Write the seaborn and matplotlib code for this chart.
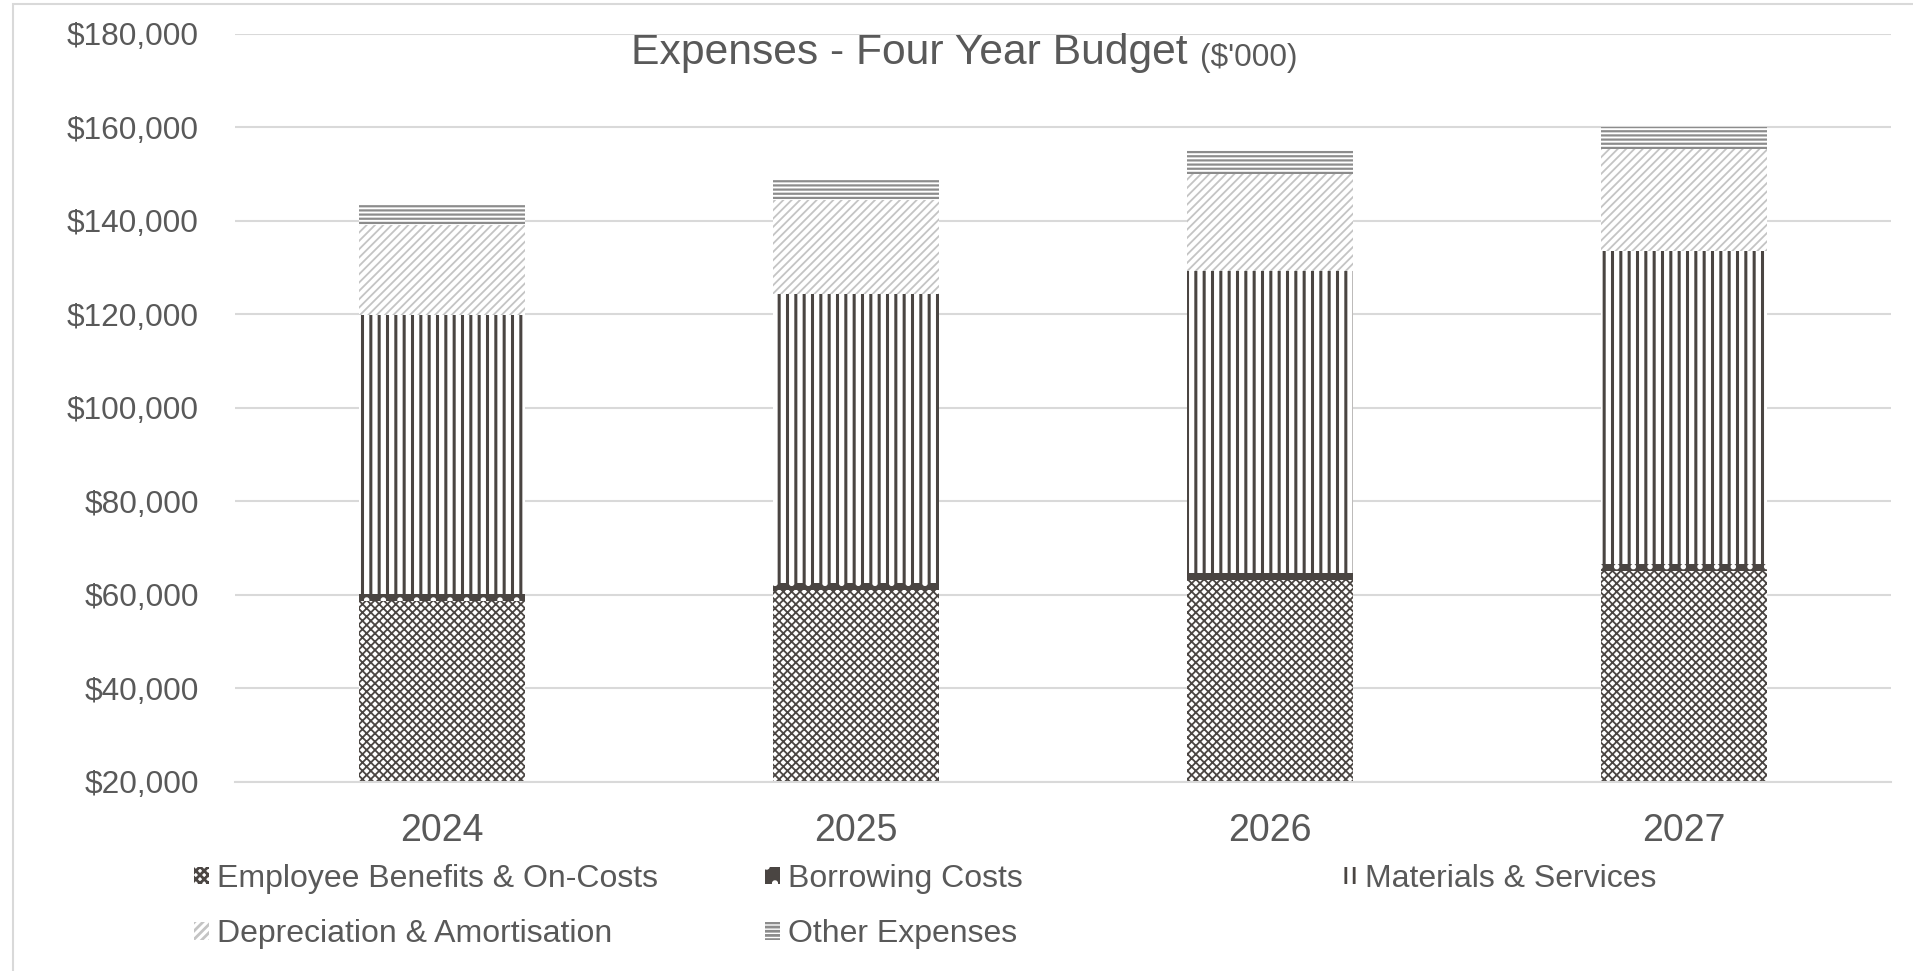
import matplotlib
matplotlib.use('Agg')
import matplotlib.pyplot as plt
from matplotlib.patches import Patch, Rectangle
from matplotlib.ticker import FuncFormatter
import seaborn as sns
import numpy as np

# --- Data ($'000) ---
years = ['2024', '2025', '2026', '2027']
employee_benefits = [58700, 61000, 63200, 65100]
borrowing_costs = [1500, 1500, 1400, 1500]
materials_services = [59600, 61900, 64600, 67000]
depreciation = [19300, 20100, 20900, 21900]
other_expenses = [4300, 4500, 5000, 4500]

series_names = ['Employee Benefits & On-Costs', 'Borrowing Costs', 'Materials & Services',
                'Depreciation & Amortisation', 'Other Expenses']
series_values = [employee_benefits, borrowing_costs, materials_services, depreciation, other_expenses]

# face colour, hatch colour, hatch pattern, hatch line width for each series
styles = [
    ('#ffffff', '#4a4542', 'xxxx', 1.3),
    ('#4a4542', '#ffffff', '.', 1.5),
    ('#ffffff', '#4a4542', '||', 2.2),
    ('#ffffff', '#c4c4c4', '////', 1.3),
    ('#ffffff', '#8c8c8c', '----', 1.6),
]

sns.set_theme(style='white')
plt.rcParams['font.family'] = ['Liberation Sans', 'DejaVu Sans']
plt.rcParams['hatch.linewidth'] = 2.0
text_color = '#595959'


def set_hatch_lw(patch, lw):
    # per-artist hatch width where matplotlib supports it
    if hasattr(patch, 'set_hatch_linewidth'):
        patch.set_hatch_linewidth(lw)


fig = plt.figure(figsize=(19.13, 9.71), dpi=100)
ax = fig.add_axes([0.1228, 0.1947, 0.8657, 0.7703])

# --- stacked bars: draw cumulative totals from the top layer down ---
cumulative = np.cumsum(np.array(series_values), axis=0)
for i in range(len(series_names) - 1, -1, -1):
    face, hcol, hatch, hlw = styles[i]
    n_before = len(ax.patches)
    sns.barplot(x=years, y=cumulative[i], ax=ax, color=face, saturation=1,
                width=0.4, edgecolor=hcol, hatch=hatch, linewidth=0, errorbar=None)
    for p in ax.patches[n_before:]:
        set_hatch_lw(p, hlw)

ax.set_ylim(20000, 180000)
ax.set_xlim(-0.5, 3.5)
ax.set_yticks(np.arange(20000, 180001, 20000))
ax.yaxis.set_major_formatter(FuncFormatter(lambda v, p: f'${v:,.0f}'))
ax.set_axisbelow(True)
ax.yaxis.grid(True, color='#d9d9d9', linewidth=1.5)
ax.xaxis.grid(False)
for side in ['top', 'left', 'right']:
    ax.spines[side].set_visible(False)
ax.spines['bottom'].set_color('#d9d9d9')
ax.spines['bottom'].set_linewidth(1.5)
ax.tick_params(axis='y', length=0, pad=26, labelsize=22.8, labelcolor=text_color)
ax.tick_params(axis='x', length=0, pad=22, labelsize=27, labelcolor=text_color)
ax.set_xlabel('')
ax.set_ylabel('')

# --- title: main part plus smaller units part ---
main_title = fig.text(631 / 1913, 1 - 53 / 971, 'Expenses - Four Year Budget', fontsize=30.7,
                      color=text_color, ha='left', va='center')
ax.annotate("($'000)", xy=(1, 0), xycoords=main_title, xytext=(9, 0),
            textcoords='offset points', fontsize=22.8, color=text_color,
            ha='left', va='bottom')

# --- legend: three columns placed like the original ---
handles = []
for s in styles:
    h = Patch(facecolor=s[0], edgecolor=s[1], hatch=s[2], linewidth=0)
    set_hatch_lw(h, s[3])
    handles.append(h)
columns = [([0, 3], 194), ([1, 4], 765), ([2], 1342)]
for idx, xpos in columns:
    leg = fig.legend([handles[i] for i in idx], [series_names[i] for i in idx],
                     loc='upper left', bbox_to_anchor=(xpos / 1913, 1 - 864 / 971),
                     frameon=False, fontsize=23, handlelength=0.47, handleheight=0.47,
                     handletextpad=0.25, labelspacing=0.79, borderpad=0, borderaxespad=0)
    for t in leg.get_texts():
        t.set_color(text_color)

# light frame around the chart area
fig.patches.append(Rectangle((13 / 1913, -0.1), 1.1, 1.1 - 4 / 971, transform=fig.transFigure,
                             fill=False, edgecolor='#d9d9d9', linewidth=1.5))

fig.savefig('out.png', dpi=100)
